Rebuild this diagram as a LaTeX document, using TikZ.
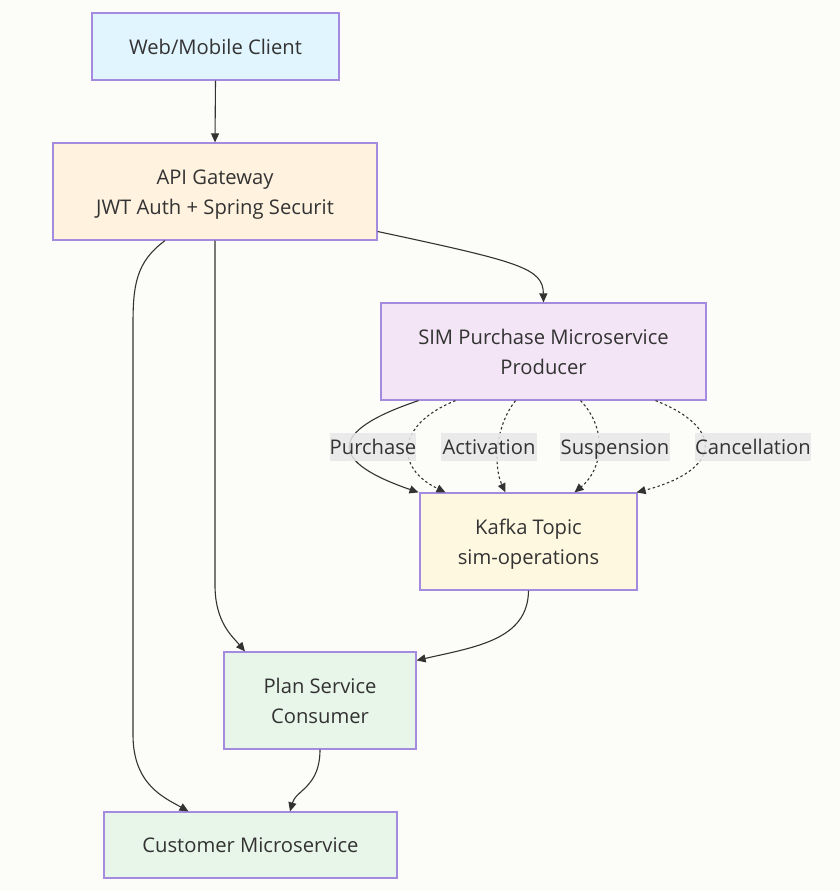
\documentclass[tikz,border=0pt]{standalone}
\usepackage{fontspec}
\setmainfont{Open Sans}
\usetikzlibrary{arrows.meta,calc}
\definecolor{bg}{HTML}{FCFCF9}
\definecolor{bord}{HTML}{A58BDF}
\definecolor{txt}{HTML}{333333}
\definecolor{fclient}{HTML}{E1F5FE}
\definecolor{fgate}{HTML}{FFF3E0}
\definecolor{fsim}{HTML}{F3E5F5}
\definecolor{fkafka}{HTML}{FFF8E1}
\definecolor{fgreen}{HTML}{E8F5E9}
\definecolor{lblgray}{HTML}{E8E8E8}
\newcommand{\twolines}[2]{\begin{tabular}[t]{@{}c@{}}#1\\#2\end{tabular}}
\tikzset{
  box/.style={draw=bord, line width=1.2pt, inner sep=0pt, text=txt,
    font=\fontsize{20.2}{30}\selectfont},
  onebox/.style={box, text height=19pt, text depth=3.6pt},
  twobox/.style={box, text height=10pt, text depth=24.6pt},
  arr/.style={draw=txt, line width=1.1pt, -{Triangle[length=9pt,width=8pt]}},
  dotarr/.style={arr, dash pattern=on 2.5pt off 2.5pt},
  lbl/.style={fill=lblgray, fill opacity=0.85, text opacity=1, text=txt, inner sep=0pt,
    minimum height=28pt, text height=17pt, text depth=2pt, font=\fontsize{20.2}{22}\selectfont}
}
\begin{document}
\begin{tikzpicture}[x=1pt,y=-1pt]
\fill[bg] (0,0) rectangle (840,891);
\useasboundingbox (0,0) rectangle (840,891);

\node[onebox, fill=fclient, minimum width=247pt, minimum height=67pt] (c) at (215.5,46.5) {Web/Mobile Client};
\node[twobox, fill=fgate, minimum width=324pt, minimum height=97pt] (g) at (215,191.5) {\twolines{API Gateway}{JWT Auth + Spring Securit}};
\node[twobox, fill=fsim, minimum width=325pt, minimum height=97pt] (s) at (543.5,351.5) {\twolines{SIM Purchase Microservice}{Producer}};
\node[twobox, fill=fkafka, minimum width=217pt, minimum height=97pt] (k) at (528.5,541.5) {\twolines{Kafka Topic}{sim-operations}};
\node[twobox, fill=fgreen, minimum width=192pt, minimum height=97pt] (p) at (320,700.5) {\twolines{Plan Service}{Consumer}};
\node[onebox, fill=fgreen, minimum width=293pt, minimum height=66pt] (cu) at (250.5,845) {Customer Microservice};

% edges
\draw[arr] (c.south) -- (g.north);
\draw[arr] ([yshift=-40pt]g.east) .. controls (520,262) and (543,268) .. (s.north);
\draw[arr] (g.south) -- (215,585) .. controls (215,622) and (232,636) .. ([xshift=-75pt]p.north);
\draw[arr] ([xshift=-50pt]g.south) .. controls (136,262) and (133,285) .. (133,325) -- (133,735)
   .. controls (133,785) and (165,798) .. ([xshift=-62pt]cu.north);
\draw[arr] ([xshift=-125pt]s.south) .. controls (325,432) and (330,462) .. ([xshift=-110pt]k.north);
\draw[dotarr] ([xshift=-88pt]s.south) .. controls (395,425) and (395,468) .. ([xshift=-83pt]k.north);
\draw[dotarr] ([xshift=-28pt]s.south) .. controls (494,428) and (494,468) .. ([xshift=-23pt]k.north);
\draw[dotarr] ([xshift=37pt]s.south) .. controls (607,428) and (604,468) .. ([xshift=46pt]k.north);
\draw[dotarr] ([xshift=112pt]s.south) .. controls (725,428) and (722,470) .. ([xshift=-1pt]k.north east);
\draw[arr] (k.south) .. controls (528,640) and (475,647) .. ([yshift=-9pt]p.north east);
\draw[arr] (p.south) .. controls (320,787) and (296,790) .. ([xshift=39.5pt]cu.north);

% labels
\node[lbl, minimum width=86pt] (l1) at (373,447) {Purchase};
\node[lbl, minimum width=96pt] (l2) at (489,447) {Activation};
\node[lbl, minimum width=110pt] (l3) at (615,447) {Suspension};
\node[lbl, minimum width=116pt] (l4) at (753,447) {Cancellation};
\end{tikzpicture}
\end{document}
